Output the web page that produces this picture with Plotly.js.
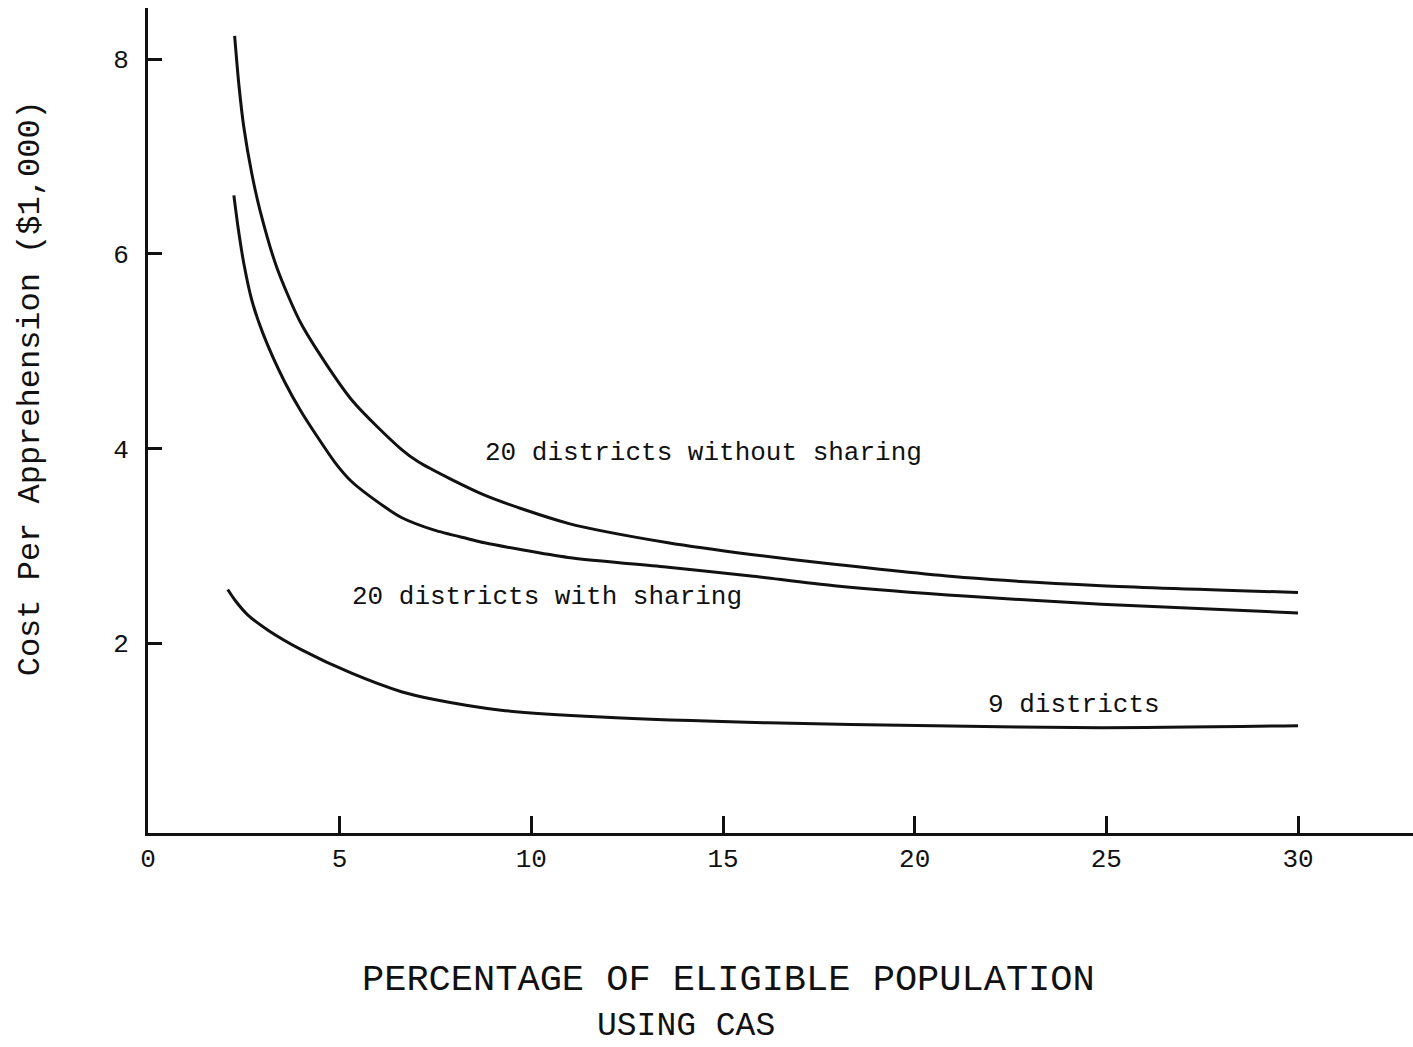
<!DOCTYPE html>
<html>
<head>
<meta charset="utf-8">
<script src="https://cdn.plot.ly/plotly-3.0.1.min.js"></script>
<style>
  html, body { margin: 0; padding: 0; background: #ffffff; }
  #chart { width: 1413px; height: 1047px; }
</style>
</head>
<body>
<div id="chart"></div>
<script>
// Series (percentage of eligible population using CAS, cost in $1,000)
const withoutSharingX = [2.26, 2.37, 2.50, 2.71, 2.92, 3.36, 4.01, 5.31, 6.61, 7.06, 8.78, 10.96, 13.57, 15.73, 17.9, 21.4, 24.87, 30.0];
const withoutSharingY = [8.24, 7.74, 7.30, 6.82, 6.45, 5.86, 5.27, 4.50, 3.99, 3.86, 3.52, 3.23, 3.03, 2.91, 2.81, 2.67, 2.59, 2.52];

const withSharingX = [2.24, 2.35, 2.50, 2.71, 3.00, 3.57, 4.01, 4.87, 5.31, 6.17, 6.61, 7.47, 8.37, 8.78, 10.96, 13.57, 15.73, 17.9, 21.4, 24.87, 30.0];
const withSharingY = [6.60, 6.27, 5.90, 5.52, 5.18, 4.68, 4.37, 3.86, 3.66, 3.40, 3.29, 3.16, 3.07, 3.03, 2.88, 2.78, 2.69, 2.59, 2.48, 2.40, 2.31];

const nineDistrictsX = [2.08, 2.27, 2.60, 3.14, 4.01, 5.31, 6.61, 7.47, 9.21, 11.82, 16.17, 20.5, 24.87, 30.0];
const nineDistrictsY = [2.55, 2.44, 2.29, 2.13, 1.93, 1.69, 1.50, 1.42, 1.31, 1.24, 1.18, 1.15, 1.13, 1.15];

const seriesNames = ["20 districts without sharing", "20 districts with sharing", "9 districts"];
const xTickValues = [0, 5, 10, 15, 20, 25, 30];
const yTickValues = [2, 4, 6, 8];

const FONT = "Liberation Mono, Courier New, monospace";
const INK = "#111111";

function curve(x, y, name) {
  return {
    type: "scatter", mode: "lines", x: x, y: y, name: name,
    line: { color: INK, width: 3, shape: "spline", smoothing: 0.7 },
    hoverinfo: "x+y+name"
  };
}

const data = [
  curve(withoutSharingX, withoutSharingY, seriesNames[0]),
  curve(withSharingX, withSharingY, seriesNames[1]),
  curve(nineDistrictsX, nineDistrictsY, seriesNames[2])
];

const layout = {
  width: 1413, height: 1047,
  margin: { l: 148, r: 0, t: 8, b: 214 },
  paper_bgcolor: "#ffffff", plot_bgcolor: "#ffffff",
  showlegend: false,
  font: { family: FONT, color: INK },
  xaxis: {
    range: [0, 33.0],
    showgrid: false, zeroline: false,
    showline: true, linecolor: INK, linewidth: 3,
    tickmode: "array", tickvals: xTickValues,
    ticks: "inside", ticklen: 17, tickwidth: 3, tickcolor: INK,
    tickfont: { family: FONT, size: 26, color: INK },
    ticklabelstandoff: 0
  },
  yaxis: {
    range: [0.048, 8.526],
    showgrid: false, zeroline: false,
    showline: true, linecolor: INK, linewidth: 3,
    tickmode: "array", tickvals: yTickValues,
    ticks: "inside", ticklen: 14, tickwidth: 3, tickcolor: INK,
    tickfont: { family: FONT, size: 26, color: INK },
    ticklabelstandoff: 11
  },
  annotations: [
    { xref: "x", yref: "y", x: 8.75, y: 3.95, xanchor: "left", yanchor: "middle",
      text: seriesNames[0], showarrow: false, font: { family: FONT, size: 26, color: INK } },
    { xref: "x", yref: "y", x: 5.26, y: 2.47, xanchor: "left", yanchor: "middle",
      text: seriesNames[1], showarrow: false, font: { family: FONT, size: 26, color: INK } },
    { xref: "x", yref: "y", x: 21.86, y: 1.36, xanchor: "left", yanchor: "middle",
      text: seriesNames[2], showarrow: false, font: { family: FONT, size: 26, color: INK } },
    { xref: "paper", yref: "paper", x: 0.459, y: -0.178, xanchor: "center", yanchor: "middle",
      text: "PERCENTAGE OF ELIGIBLE POPULATION", showarrow: false,
      font: { family: FONT, size: 37, color: INK } },
    { xref: "paper", yref: "paper", x: 0.425, y: -0.234, xanchor: "center", yanchor: "middle",
      text: "USING CAS", showarrow: false, borderpad: 0,
      font: { family: FONT, size: 33, color: INK } },
    { xref: "paper", yref: "paper", x: -0.0933, y: 0.539, xanchor: "center", yanchor: "middle",
      textangle: -90,
      text: "Cost Per Apprehension ($1,000)", showarrow: false,
      font: { family: FONT, size: 32, color: INK } }
  ]
};

Plotly.newPlot("chart", data, layout, { displayModeBar: false, staticPlot: true });
</script>
</body>
</html>
